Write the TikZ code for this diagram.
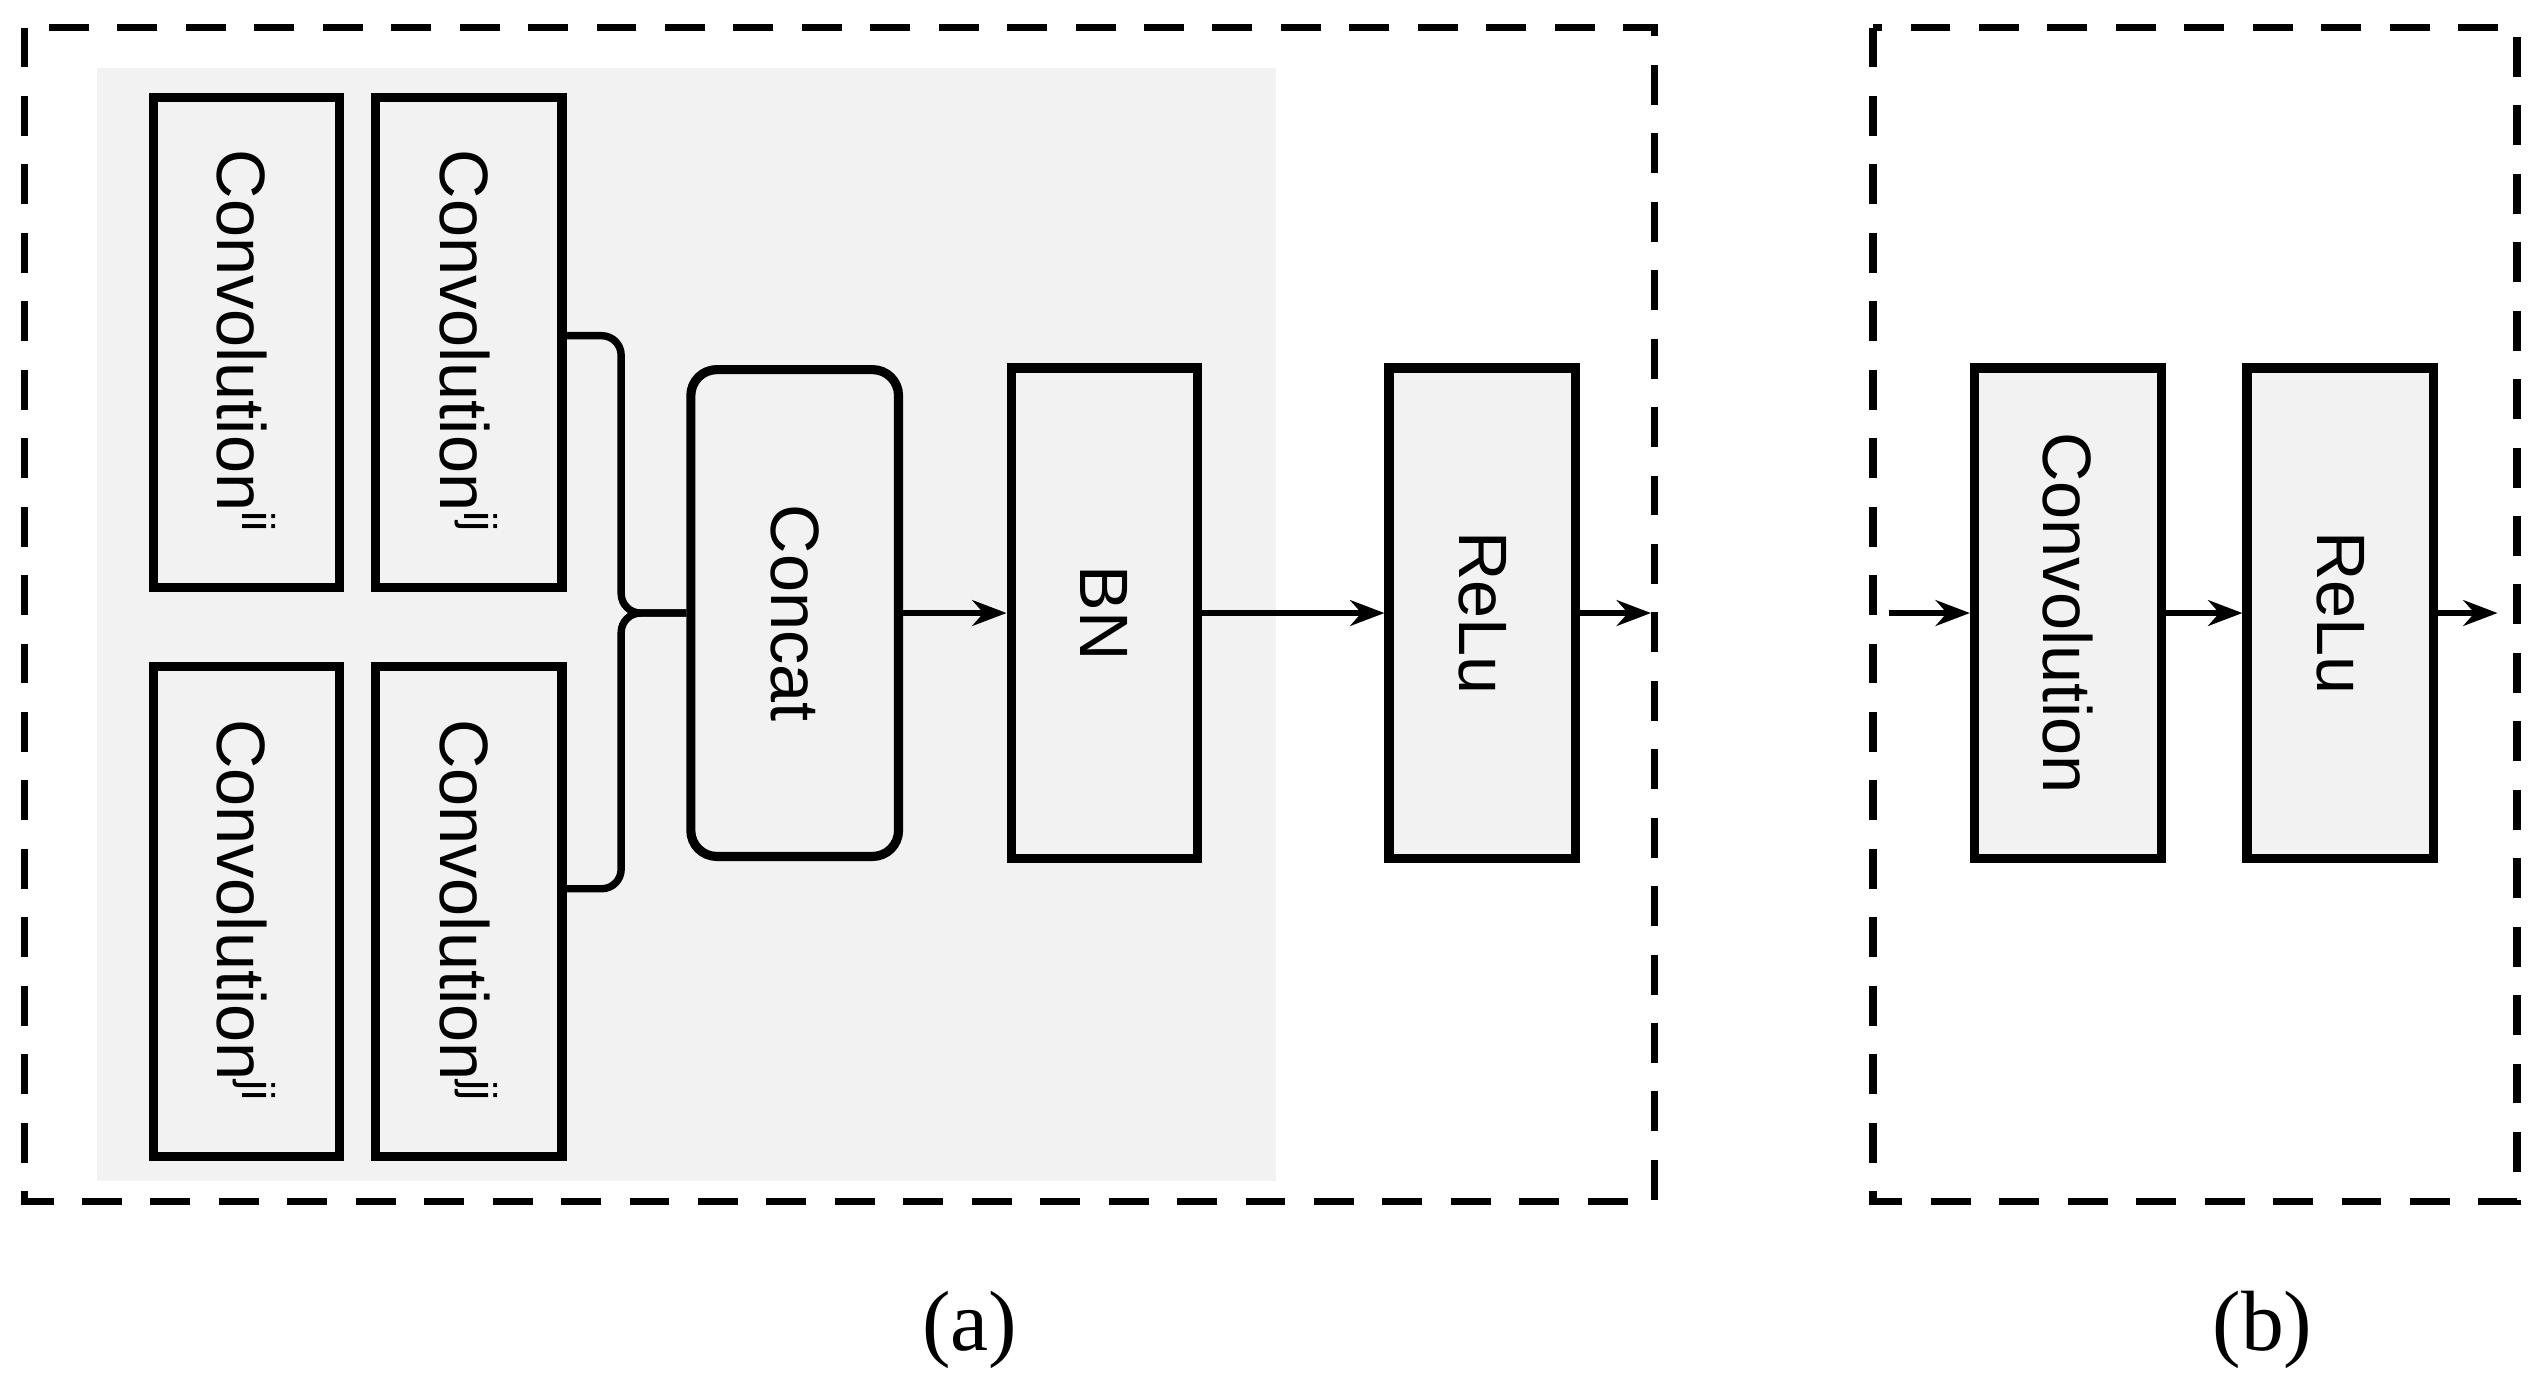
\documentclass[tikz,border=0pt]{standalone}
\usepackage{fontspec}
\setmainfont{Liberation Sans}
\newfontfamily\capfont{Liberation Serif}
\usetikzlibrary{arrows.meta}

\begin{document}
\begin{tikzpicture}[x=0.01cm, y=-0.01cm,
        block/.style={draw, line width=1.6pt, fill=gray!10, minimum width=1.15cm, inner sep=0pt},
        conv/.style={block, minimum height=3.02cm},
        unit/.style={block, minimum height=3.02cm},
        lbl/.style={rotate=-90, font=\fontsize{12}{14}\selectfont},
        flow/.style={-{Stealth[length=6pt]}, line width=1.2pt},
        frame/.style={draw, line width=1.3pt, dash pattern=on 7pt off 5pt}]
    \useasboundingbox (0,0) rectangle (1568,861);

    \fill[gray!10] (60,42) rectangle (787,728);
    \draw[frame] (15,17) rectangle (1020,741);
    \draw[frame] (1155,17) rectangle (1552,741);

    % four convolutions
    \node[conv] (cii) at (152,211) {};
    \node[conv] (cij) at (289,211) {};
    \node[conv] (cji) at (152,562) {};
    \node[conv] (cjj) at (289,562) {};
    \node[lbl] at (cii) {Convolution\textsuperscript{ii}};
    \node[lbl] at (cij) {Convolution\textsuperscript{ij}};
    \node[lbl] at (cji) {Convolution\textsuperscript{ji}};
    \node[lbl] at (cjj) {Convolution\textsuperscript{jj}};

    \node[block, rounded corners=0.16cm, minimum width=1.28cm, minimum height=3cm] (concat) at (490,378) {};
    \node[lbl] at (concat) {Concat};
    \node[unit] (bn) at (681,378) {};
    \node[lbl] at (bn) {BN};
    \node[unit] (relua) at (914,378) {};
    \node[lbl] at (relua) {ReLu};
    \coordinate (outa) at (1018,378);

    \node[unit] (convb) at (1275,378) {};
    \node[lbl] at (convb) {Convolution};
    \node[unit] (relub) at (1443,378) {};
    \node[lbl] at (relub) {ReLu};
    \coordinate (inb) at (1165,378);
    \coordinate (outb) at (1540,378);

    % merge brace
    \draw[line width=1.3pt, rounded corners=0.12cm] (cij.east |- 0,207) -- (383,207) -- (383,378) -- (concat.west);
    \draw[line width=1.3pt, rounded corners=0.12cm] (cjj.east |- 0,548) -- (383,548) -- (383,378) -- (concat.west);

    \draw[flow] (concat) -- (bn);
    \draw[flow] (bn) -- (relua);
    \draw[flow] (relua) -- (outa);
    \draw[flow] (inb) -- (convb);
    \draw[flow] (convb) -- (relub);
    \draw[flow] (relub) -- (outb);

    \node[font=\capfont\fontsize{15}{18}\selectfont] (capa) at (598,820) {(a)};
    \node[font=\capfont\fontsize{15}{18}\selectfont] (capb) at (1395,820) {(b)};
\end{tikzpicture}
\end{document}
